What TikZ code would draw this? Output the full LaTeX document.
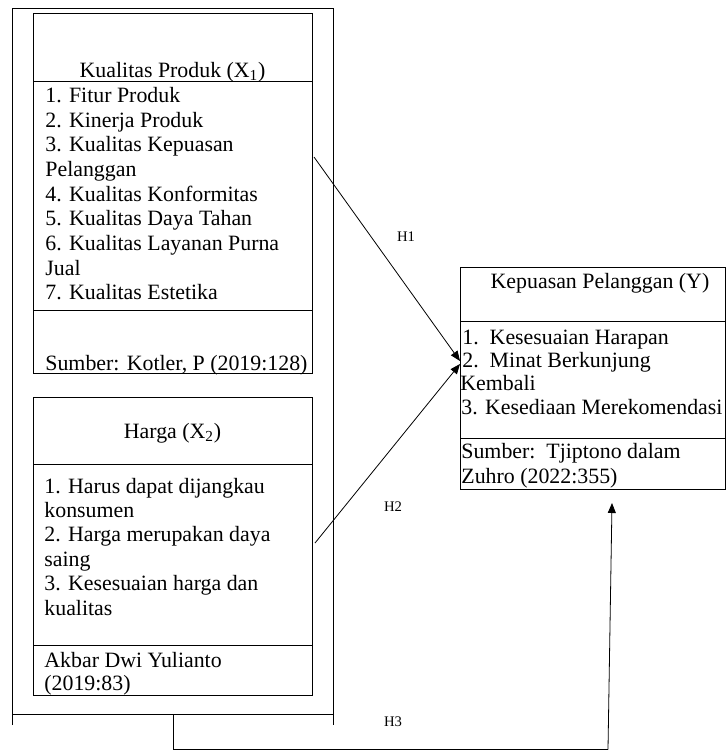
\documentclass[tikz,border=0pt]{standalone}
\usepackage{fontspec}
\setmainfont{Liberation Serif}
\usetikzlibrary{arrows.meta,fit}
\begin{document}
\begin{tikzpicture}[x=0.75pt,y=-0.75pt,line width=0.6pt,
  box/.style={draw,inner sep=0pt,outer sep=0pt,line width=0.7pt},
  txt/.style={anchor=base west,inner sep=0pt,font=\fontsize{16.4}{18.5}\selectfont},
  ctxt/.style={anchor=base,inner sep=0pt,font=\fontsize{16.4}{18.5}\selectfont},
  hlab/.style={inner sep=0pt,font=\fontsize{11}{13}\selectfont},
  arr/.style={-{Triangle[length=7.5pt,width=6pt]}}]
\useasboundingbox (0,0) rectangle (726,751);
% outer frame
\coordinate (oTL) at (12,8);
\coordinate (oTR) at (333,8);
\coordinate (oBL) at (12,725);
\coordinate (oBR) at (333,725);
\coordinate (oML) at (12,714);
\coordinate (oMR) at (333,714);
\draw (oBL) -- (oTL) -- (oTR) -- (oBR);
\draw (oML) -- (oMR);
% box 1
\node[box,fit={(33,13) (312,373)}] (b1) {};
\draw[line width=0.7pt] (33,81) -- (312,81);
\draw[line width=0.7pt] (33,310) -- (312,310);
\node[ctxt] (b1h) at (172.5,77) {Kualitas Produk (X\textsubscript{1})};
\foreach \t [count=\i] in {{1. Fitur Produk},{2. Kinerja Produk},{3. Kualitas Kepuasan},{Pelanggan},{4. Kualitas Konformitas},{5. Kualitas Daya Tahan},{6. Kualitas Layanan Purna},{Jual},{7. Kualitas Estetika}}
  \node[txt] (b1i\i) at (45,{102.3+(\i-1)*24.7}) {\t};
\node[txt] (b1s) at (45,370) {Sumber: Kotler, P (2019:128)};
% box 2
\node[box,fit={(33,397) (312,695)}] (b2) {};
\draw[line width=0.7pt] (33,464) -- (312,464);
\draw[line width=0.7pt] (33,645) -- (312,645);
\node[ctxt] (b2h) at (172.5,438) {Harga (X\textsubscript{2})};
\foreach \t [count=\i] in {{1. Harus dapat dijangkau},{konsumen},{2. Harga merupakan daya},{saing},{3. Kesesuaian harga dan},{kualitas}}
  \node[txt] (b2i\i) at (44,{493+(\i-1)*24.4}) {\t};
\node[txt] (b2s1) at (44,667) {Akbar Dwi Yulianto};
\node[txt] (b2s2) at (44,690) {(2019:83)};
% box Y
\node[box,fit={(460,267) (725,489)}] (by) {};
\draw[line width=0.7pt] (460,321) -- (725,321);
\draw[line width=0.7pt] (460,438) -- (725,438);
\node[ctxt] (byh) at (600,288) {Kepuasan Pelanggan (Y)};
\node[txt] (byi1) at (462,344) {1.\ \ Kesesuaian Harapan};
\node[txt] (byi2) at (462,367) {2.\ \ Minat Berkunjung};
\node[txt] (byi3) at (460,390) {Kembali};
\node[txt] (byi4) at (461,414) {3. Kesediaan Merekomendasi};
\node[txt] (bys1) at (461,458) {Sumber:\ \ Tjiptono dalam};
\node[txt] (bys2) at (461,483) {Zuhro (2022:355)};
% connectors
\coordinate (h1s) at (314,157);
\coordinate (h1e) at (460,361);
\coordinate (h2s) at (315,543);
\coordinate (h2e) at (460,364);
\coordinate (h3a) at (173,714);
\coordinate (h3b) at (173,749.5);
\coordinate (h3c) at (608,749.5);
\coordinate (h3e) at (612,503);
\draw[arr] (h1s) -- (h1e);
\draw[arr] (h2s) -- (h2e);
\draw (h3a) -- (h3b) -- (h3c);
\draw[arr] (h3c) -- (h3e);
\node[hlab] (H1) at (406,237) {H1};
\node[hlab] (H2) at (393,507) {H2};
\node[hlab] (H3) at (393,722) {H3};
\end{tikzpicture}
\end{document}
